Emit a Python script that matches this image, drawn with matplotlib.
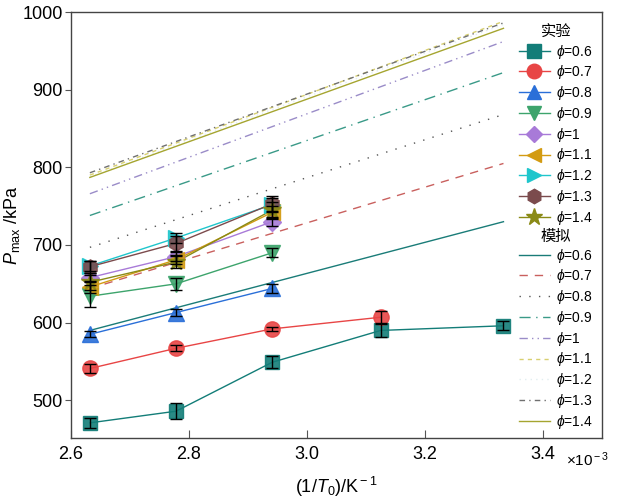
import matplotlib
matplotlib.use("Agg")
import matplotlib.pyplot as plt
from matplotlib.lines import Line2D

plt.rcParams['font.family'] = ['Liberation Sans', 'DejaVu Sans', 'Noto Sans CJK SC']
plt.rcParams['mathtext.fontset'] = 'custom'
plt.rcParams['mathtext.rm'] = 'Liberation Sans'
plt.rcParams['mathtext.it'] = 'Liberation Sans:italic'
plt.rcParams['mathtext.fallback'] = 'cm'

# ---------------- data ----------------
phi_labels = ['0.6', '0.7', '0.8', '0.9', '1', '1.1', '1.2', '1.3', '1.4']
x_exp = [2.632, 2.778, 2.941]          # 1/T0 (x10^-3 K^-1)
x_exp_06 = [2.632, 2.778, 2.941, 3.125, 3.333]
x_exp_07 = [2.632, 2.778, 2.941, 3.125]

y_06 = [471, 486, 549, 590, 596]
y_07 = [541, 567, 592, 607]
y_08 = [585, 613, 644]
y_09 = [634, 650, 690]
y_10 = [658, 685, 730]
y_11 = [646, 681, 742]
y_12 = [673, 709, 752]
y_13 = [672, 702, 753]
y_14 = [652, 678, 745]

e_06 = [6, 10, 8, 8, 6]
e_07 = [6, 4, 3, 8]
e_08 = [4, 5, 6]
e_09 = [14, 8, 6]
e_10 = [6, 6, 6]
e_11 = [8, 6, 8]
e_12 = [6, 6, 8]
e_13 = [8, 10, 10]
e_14 = [10, 8, 10]

# simulation straight lines (start, end)
x_sim = [2.632, 3.333]
s_06 = [590, 730]
s_07 = [644, 805]
s_08 = [697, 868]
s_09 = [738, 922]
s_10 = [766, 962]
s_11 = [790, 988]
s_12 = [788, 984]
s_13 = [793, 986]
s_14 = [787, 979]

xticks = [2.6, 2.8, 3.0, 3.2, 3.4]
yticks = [500, 600, 700, 800, 900, 1000]

# ---------------- styles ----------------
exp_x = [x_exp_06, x_exp_07] + [x_exp] * 7
exp_y = [y_06, y_07, y_08, y_09, y_10, y_11, y_12, y_13, y_14]
exp_e = [e_06, e_07, e_08, e_09, e_10, e_11, e_12, e_13, e_14]
exp_colors = ['#137d78', '#e84545', '#2a6fd8', '#3da46c', '#a87ad8',
              '#d39b12', '#1fc6cc', '#7b4b4d', '#8a8a16']
exp_markers = ['s', 'o', '^', 'v', 'D', '<', '>', 'h', '*']
exp_ms = [10, 11, 11, 11, 9, 11, 11, 11, 13]

sim_y = [s_06, s_07, s_08, s_09, s_10, s_11, s_12, s_13, s_14]
sim_colors = ['#1a7c78', '#c9605e', '#555555', '#3a9a88', '#9a8cc8',
              '#d8d070', '#e2eef0', '#707070', '#a5a530']
sim_ls = ['-', (0, (6, 5)), (0, (1, 6)), (0, (8, 4, 1, 4)), (0, (6, 3, 1, 3, 1, 3)),
          (0, (3, 3)), (0, (1, 3)), (0, (4, 3, 1, 3)), '-']

fig = plt.figure(figsize=(6.3, 5.03), dpi=100)
ax = fig.add_axes([71/630, 1-438/503, (602-71)/630, (438-12)/503])

for i in range(9):
    ax.plot(x_sim, sim_y[i], color=sim_colors[i], lw=1.0, ls=sim_ls[i], zorder=1)

exp_handles = []
for i in range(9):
    ax.plot(exp_x[i], exp_y[i], color=exp_colors[i], lw=1.0, zorder=2)
    ax.plot(exp_x[i], exp_y[i], ls='none', marker=exp_markers[i], ms=exp_ms[i],
            mfc=exp_colors[i], mec=exp_colors[i], alpha=0.9, zorder=3)
    ax.errorbar(exp_x[i], exp_y[i], yerr=exp_e[i], fmt='none', ecolor='black',
                elinewidth=1.0, capsize=4, capthick=1.0, zorder=4)
    exp_handles.append(Line2D([], [], color=exp_colors[i], lw=1.0, marker=exp_markers[i],
                              ms=exp_ms[i] * 0.95, mfc=exp_colors[i], mec=exp_colors[i]))

sim_handles = [Line2D([], [], color=sim_colors[i], lw=1.0, ls=sim_ls[i]) for i in range(9)]
labels = [r'$\phi$=' + p for p in phi_labels]

ax.set_xlim(2.6, 3.5)
ax.set_ylim(451.5, 1000)
ax.set_xticks(xticks)
ax.set_xticklabels([f'{v:.1f}' for v in xticks])
ax.set_yticks(yticks)
ax.tick_params(axis='x', direction='in', length=6, labelsize=13, pad=6, color='#555555')
ax.tick_params(axis='y', direction='out', length=4, labelsize=13, pad=2, color='#555555')
for s in ax.spines.values():
    s.set_color('#444444')
    s.set_linewidth(1.0)

ax.set_xlabel(r'(1/$T_{\rm 0}$)/K$^{\rm -1}$', fontsize=13, labelpad=8)
ax.set_ylabel(r'$P_{\rm max}$ /kPa', fontsize=13)
ax.yaxis.set_label_coords(-0.092, 0.5)
fig.text(588/630, 1-460/503, r'×10$^{\rm -3}$', fontsize=11, ha='center', va='center')

common = dict(loc='upper right', bbox_transform=fig.transFigure, frameon=False,
              fontsize=10, title_fontsize=11, handlelength=2.2, labelspacing=0.2,
              handletextpad=0.5, borderpad=0.2, borderaxespad=0)
leg1 = ax.legend(exp_handles, labels, title='实验',
                 bbox_to_anchor=(596/630, 1-23/503), **common)
ax.add_artist(leg1)
leg2 = ax.legend(sim_handles, labels, title='模拟',
                 bbox_to_anchor=(596/630, 1-227/503), **common)

fig.savefig('out.png', dpi=100)
